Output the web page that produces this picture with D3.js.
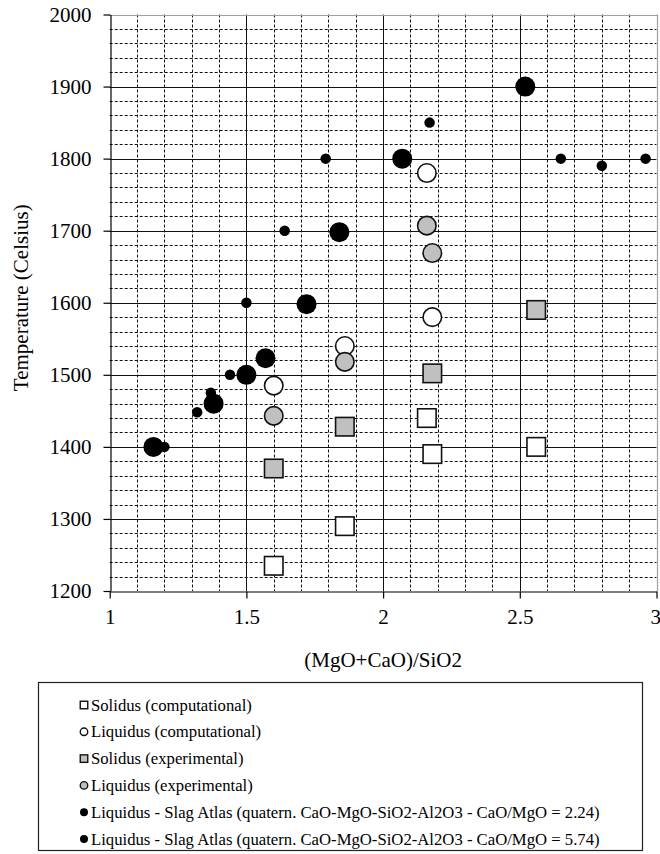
<!DOCTYPE html>
<html>
<head>
<meta charset="utf-8">
<script src="https://cdn.jsdelivr.net/npm/d3@7"></script>
<style>
  html, body { margin: 0; padding: 0; background: #fff; }
  svg { display: block; }
  text { font-family: "Liberation Serif", "Times New Roman", serif; fill: #000; }
</style>
</head>
<body>
<svg id="chart" width="660" height="854"></svg>
<script>
// Axis settings
const xDomain = [1, 3];
const yDomain = [1200, 2000];
const xTicks = [1, 1.5, 2, 2.5, 3];
const yTicks = [1200, 1300, 1400, 1500, 1600, 1700, 1800, 1900, 2000];
const xTitle = "(MgO+CaO)/SiO2";
const yTitle = "Temperature (Celsius)";

// Series: basicity ratio (x) and temperature in °C (y)
const solidusCompX = [1.60, 1.86, 2.16, 2.18, 2.56];
const solidusCompY = [1235, 1290, 1440, 1390, 1400];

const liquidusCompX = [1.60, 1.86, 2.18, 2.16];
const liquidusCompY = [1485, 1540, 1580, 1780];

const solidusExpX = [1.60, 1.86, 2.18, 2.56];
const solidusExpY = [1370, 1428, 1502, 1590];

const liquidusExpX = [1.60, 1.86, 2.16, 2.18];
const liquidusExpY = [1443, 1518, 1707, 1669];

const atlas224X = [1.16, 1.38, 1.50, 1.57, 1.72, 1.84, 2.07, 2.52];
const atlas224Y = [1400, 1460, 1500, 1523, 1598, 1698, 1800, 1900];

const atlas574X = [1.20, 1.32, 1.37, 1.44, 1.50, 1.64, 1.79, 2.17, 2.65, 2.80, 2.96];
const atlas574Y = [1400, 1448, 1475, 1500, 1600, 1700, 1800, 1850, 1800, 1790, 1800];

const seriesNames = [
  "Solidus (computational)",
  "Liquidus (computational)",
  "Solidus (experimental)",
  "Liquidus (experimental)",
  "Liquidus - Slag Atlas (quatern. CaO-MgO-SiO2-Al2O3 - CaO/MgO = 2.24)",
  "Liquidus - Slag Atlas (quatern. CaO-MgO-SiO2-Al2O3 - CaO/MgO = 5.74)"
];

const zip = (xs, ys) => xs.map((x, i) => ({ x, y: ys[i] }));

const series = [
  { name: seriesNames[0], shape: "square", fill: "#ffffff", size: 18.5, data: zip(solidusCompX, solidusCompY) },
  { name: seriesNames[1], shape: "circle", fill: "#ffffff", size: 18.5, data: zip(liquidusCompX, liquidusCompY) },
  { name: seriesNames[2], shape: "square", fill: "#c0c0c0", size: 18.5, data: zip(solidusExpX, solidusExpY) },
  { name: seriesNames[3], shape: "circle", fill: "#c0c0c0", size: 18.5, data: zip(liquidusExpX, liquidusExpY) },
  { name: seriesNames[4], shape: "dot", fill: "#000000", size: 20, data: zip(atlas224X, atlas224Y) },
  { name: seriesNames[5], shape: "dot", fill: "#000000", size: 10.5, data: zip(atlas574X, atlas574Y) }
];

const svg = d3.select("#chart");
const plot = { left: 109.7, right: 656.5, top: 14.5, bottom: 591 };

const x = d3.scaleLinear().domain(xDomain).range([plot.left, plot.right]);
const y = d3.scaleLinear().domain(yDomain).range([plot.bottom, plot.top]);

// Grid: dashed minor lines every 0.1 / 20 °C, solid major lines every 0.5 / 100 °C
const grid = svg.append("g");
const xMinor = d3.range(10, 31).map(v => v / 10).filter(v => !xTicks.includes(v));
const yMinor = d3.range(1200, 2001, 20).filter(v => !yTicks.includes(v));

grid.selectAll(".hmin").data(yMinor).join("line")
  .attr("x1", plot.left).attr("x2", plot.right)
  .attr("y1", d => Math.round(y(d)) + 0.5).attr("y2", d => Math.round(y(d)) + 0.5)
  .attr("stroke", "#111").attr("stroke-width", 1).attr("stroke-dasharray", "3,2");

grid.selectAll(".vmin").data(xMinor).join("line")
  .attr("x1", d => Math.round(x(d)) + 0.5).attr("x2", d => Math.round(x(d)) + 0.5)
  .attr("y1", plot.top).attr("y2", plot.bottom)
  .attr("stroke", "#111").attr("stroke-width", 1).attr("stroke-dasharray", "3,2");

grid.selectAll(".hmaj").data(yTicks.slice(1, -1)).join("line")
  .attr("x1", plot.left).attr("x2", plot.right)
  .attr("y1", d => Math.round(y(d)) + 0.5).attr("y2", d => Math.round(y(d)) + 0.5)
  .attr("stroke", "#111").attr("stroke-width", 1);

grid.selectAll(".vmaj").data(xTicks.slice(1, -1)).join("line")
  .attr("x1", d => Math.round(x(d)) + 0.5).attr("x2", d => Math.round(x(d)) + 0.5)
  .attr("y1", plot.top).attr("y2", plot.bottom)
  .attr("stroke", "#111").attr("stroke-width", 1);

// Plot frame: grey top and right edges
svg.append("line")
  .attr("x1", plot.left).attr("x2", plot.right + 0.5)
  .attr("y1", Math.round(plot.top) + 0.5).attr("y2", Math.round(plot.top) + 0.5)
  .attr("stroke", "#a0a0a0").attr("stroke-width", 1.2);
svg.append("line")
  .attr("x1", Math.round(plot.right) + 0.5).attr("x2", Math.round(plot.right) + 0.5)
  .attr("y1", plot.top).attr("y2", plot.bottom)
  .attr("stroke", "#a0a0a0").attr("stroke-width", 1.2);

// Axes
const fmtX = d => String(d);
const xAxis = svg.append("g")
  .attr("transform", `translate(0,${Math.round(plot.bottom) + 0.5})`)
  .call(d3.axisBottom(x).tickValues(xTicks).tickFormat(fmtX).tickSize(7).tickPadding(11).tickSizeOuter(0));
const yAxis = svg.append("g")
  .attr("transform", `translate(${Math.round(plot.left) + 0.5},0)`)
  .call(d3.axisLeft(y).tickValues(yTicks).tickFormat(d3.format("d")).tickSize(7).tickPadding(12).tickSizeOuter(0));

[xAxis, yAxis].forEach(a => {
  a.attr("font-family", null);
  a.select(".domain").attr("stroke", "#000").attr("stroke-width", 1.2);
  a.selectAll(".tick line").attr("stroke", "#000").attr("stroke-width", 1.2);
  a.selectAll(".tick text")
    .attr("font-size", 21).attr("fill", "#000");
});
// keep the last x label inside the frame
xAxis.selectAll(".tick text").filter(d => d === xDomain[1]).attr("text-anchor", "end").attr("x", 4);

// Axis titles
svg.append("text")
  .attr("x", (plot.left + plot.right) / 2).attr("y", 667)
  .attr("text-anchor", "middle").attr("font-size", 21)
  .text(xTitle);
svg.append("text")
  .attr("transform", `translate(28,${(plot.top + plot.bottom) / 2 - 5}) rotate(-90)`)
  .attr("text-anchor", "middle").attr("font-size", 21)
  .text(yTitle);

// Marker drawing
function drawMarker(sel, shape, size, fill) {
  if (shape === "square") {
    sel.append("rect")
      .attr("x", -size / 2).attr("y", -size / 2)
      .attr("width", size).attr("height", size)
      .attr("fill", fill).attr("stroke", "#111").attr("stroke-width", 1.6);
  } else if (shape === "circle") {
    sel.append("circle").attr("r", size / 2)
      .attr("fill", fill).attr("stroke", "#111").attr("stroke-width", 1.6);
  } else {
    sel.append("circle").attr("r", size / 2).attr("fill", fill);
  }
}

const marks = svg.append("g");
series.forEach(s => {
  const g = marks.append("g");
  g.selectAll("g").data(s.data).join("g")
    .attr("transform", d => `translate(${x(d.x)},${y(d.y)})`)
    .each(function () { drawMarker(d3.select(this), s.shape, s.size, s.fill); });
});

// Legend
const legend = svg.append("g");
legend.append("rect")
  .attr("x", 38.5).attr("y", 682.5).attr("width", 604).attr("height", 168)
  .attr("fill", "#fff").attr("stroke", "#222").attr("stroke-width", 1.2);

const rowY = d3.scalePoint().domain(d3.range(series.length)).range([705, 839]);
series.forEach((s, i) => {
  const row = legend.append("g").attr("transform", `translate(0,${rowY(i)})`);
  const m = row.append("g").attr("transform", "translate(84,0)");
  if (s.shape === "dot") drawMarker(m, "dot", 8, s.fill);
  else {
    drawMarker(m, s.shape, 7.5, s.fill);
    m.select("*").attr("stroke-width", 1.4);
  }
  row.append("text")
    .attr("x", 91).attr("y", 0).attr("dy", "0.33em")
    .attr("font-size", 16.7)
    .text(s.name);
});
</script>
</body>
</html>
